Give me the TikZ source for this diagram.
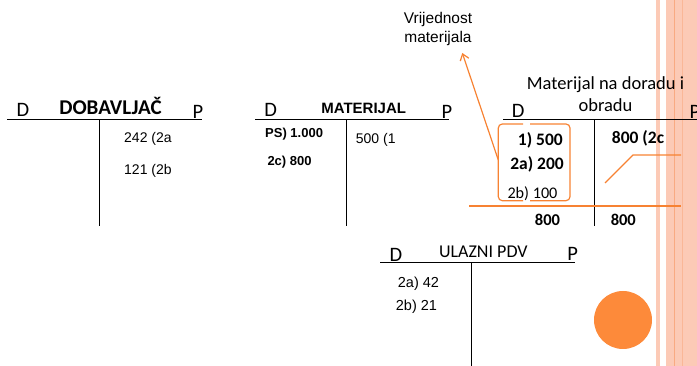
\documentclass[tikz,border=0pt]{standalone}
\usepackage{fontspec}
\setmainfont{Liberation Sans}
\newfontfamily\calfont{Carlito}
\usetikzlibrary{arrows.meta}
\definecolor{orng}{RGB}{247,130,50}
\definecolor{salmon}{RGB}{252,202,182}
\definecolor{salmondk}{RGB}{249,170,130}
\definecolor{circ}{RGB}{253,138,58}
\begin{document}
\begin{tikzpicture}[x=1pt,y=-1pt,
  tl/.style={line width=1pt, black},
  ol/.style={line width=1.2pt, orng},
  dp/.style={font=\calfont\fontsize{20.5}{22}\selectfont, anchor=base, inner sep=0pt},
  cbold/.style={font=\calfont\bfseries\fontsize{17.5}{20}\selectfont, inner sep=0pt},
  creg/.style={font=\calfont\fontsize{18}{22.4}\selectfont, inner sep=0pt},
  ar/.style={font=\fontsize{14}{16}\selectfont, inner sep=0pt, anchor=base west},
  arb/.style={font=\bfseries\fontsize{13}{15}\selectfont, inner sep=0pt, anchor=base west}]
\useasboundingbox (0,0) rectangle (697,366);
\clip (0,0) rectangle (697,366);
% right-hand stripes
\fill[salmon] (656,0) rectangle (660,366);
\fill[salmon] (666,0) rectangle (697,366);
\draw[salmondk, line width=1.3pt] (674.3,0) -- (674.3,366);
\draw[salmondk!60!salmon, line width=0.8pt] (682,0) -- (682,366);

% account 1: DOBAVLJAC
\draw[tl] (7,119.3) -- (202,119.3);
\draw[tl] (99,119.3) -- (99,226);
\node[dp] (d1) at (23,117) {D};
\node[dp] (p1) at (198,119) {P};
\node[cbold, anchor=base, font=\calfont\bfseries\fontsize{21}{24}\selectfont] (t1) at (110.5,115) {DOBAVLJAČ};
\node[ar] (a1) at (124,143) {242 (2a};
\node[ar] (a2) at (124,175) {121 (2b};

% account 2: MATERIJAL
\draw[tl] (255,119.3) -- (449,119.3);
\draw[tl] (346.7,119.3) -- (346.7,226);
\node[dp] (d2) at (270.7,117) {D};
\node[dp] (p2) at (447,119) {P};
\node[inner sep=0pt, anchor=base, font=\bfseries\fontsize{15}{17}\selectfont] (t2) at (363.7,114) {MATERIJAL};
\node[arb] (b1) at (265,137.3) {PS) 1.000};
\node[arb] (b2) at (267.3,165.7) {2c) 800};
\node[ar] (b3) at (355.7,143.3) {500 (1};

% account 3: Materijal na doradu i obradu
\draw[tl] (503,119.3) -- (697,119.3);
\draw[tl] (594.3,119.3) -- (594.3,225.7);
\node[dp] (d3) at (518.3,117.3) {D};
\node[dp] (p3) at (695,119) {P};
\node[creg, anchor=base, align=center, font=\calfont\fontsize{18.5}{22.4}\selectfont] (t3) at (605.5,111.7) {Materijal na doradu i\\obradu};
\node[cbold, anchor=base east] (c1) at (563,145.7) {1) 500};
\node[cbold, anchor=base east] (c2) at (564,169.3) {2a) 200};
\node[inner sep=0pt, anchor=base west, font=\calfont\fontsize{16.2}{18}\selectfont] (c3) at (507.3,198.3) {2b) 100};
\node[cbold, anchor=base west] (c4) at (611.7,143.3) {800 (2c};
\node[cbold, anchor=base, font=\calfont\bfseries\fontsize{16.5}{19}\selectfont] (c5) at (547.5,226) {800};
\node[cbold, anchor=base, font=\calfont\bfseries\fontsize{16.5}{19}\selectfont] (c6) at (623.3,226) {800};

% orange annotations
\draw[ol] (469,206) -- (681,206);
\draw[ol] (605,183) -- (633,155) -- (681,155);
\draw[ol, rounded corners=4pt] (523,124) -- (498.3,124) -- (498.3,200.7) -- (523,200.7);
\draw[ol, rounded corners=4pt] (530,124) -- (570,124) -- (570,200.7) -- (530,200.7);
\node[inner sep=0pt, anchor=base, align=center, font=\fontsize{15.5}{18.7}\selectfont] (lbl) at (438,42.7) {Vrijednost\\materijala};
\coordinate (as) at (498.3,160);
\coordinate (ae) at (462.3,53);
\draw[ol, -{Straight Barb[length=6pt,width=9pt]}] (as) -- (ae);

% account 4: ULAZNI PDV
\draw[tl] (380,262.7) -- (575,262.7);
\draw[tl] (471.7,262.7) -- (471.7,366);
\node[dp] (d4) at (396,261.7) {D};
\node[dp] (p4) at (572.7,261) {P};
\node[creg, anchor=base] (t4) at (483.3,257.3) {ULAZNI PDV};
\node[ar, font=\fontsize{14.5}{16}\selectfont] (e1) at (397.7,287.3) {2a) 42};
\node[ar, font=\fontsize{14.5}{16}\selectfont] (e2) at (395.7,311) {2b) 21};

% circle
\fill[circ] (623,320) circle (29pt);
\end{tikzpicture}
\end{document}
